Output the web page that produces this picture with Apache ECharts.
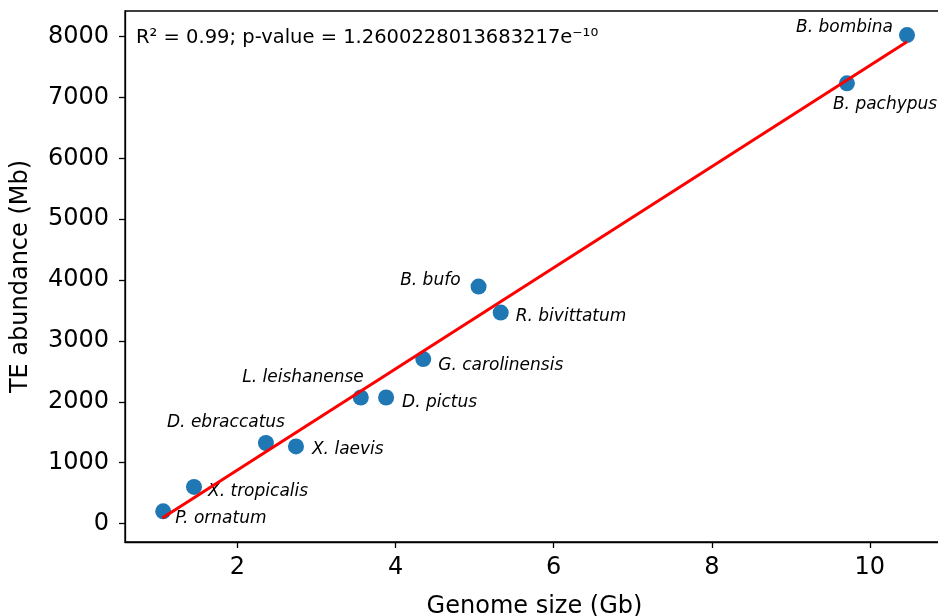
<!DOCTYPE html>
<html><head><meta charset="utf-8">
<script src="https://cdn.jsdelivr.net/npm/echarts@6/dist/echarts.min.js"></script>
<style>html,body{margin:0;padding:0;background:#fff}#c{width:938px;height:616px}</style>
</head><body><div id="c"></div>
<script>
// ---- data ----
const species = ['P. ornatum','X. tropicalis','D. ebraccatus','X. laevis','L. leishanense','D. pictus','G. carolinensis','B. bufo','R. bivittatum','B. pachypus','B. bombina'];
const genomeSizeGb = [1.06, 1.45, 2.36, 2.74, 3.56, 3.88, 4.35, 5.05, 5.33, 9.71, 10.47];
const teAbundanceMb = [202, 602, 1324, 1268, 2072, 2072, 2703, 3894, 3467, 7232, 8024];
const fitGenomeGb = [1.05, 10.47];
const fitTeMb = [94, 7914];
const xTicks = [2, 4, 6, 8, 10];
const yTicks = [0, 1000, 2000, 3000, 4000, 5000, 6000, 7000, 8000];
const statsText = 'R\u00B2 = 0.99; p-value = 1.2600228013683217e\u207B\u00B9\u2070';
const xName = 'Genome size (Gb)';
const yName = 'TE abundance (Mb)';

// ---- label placement (style only) ----
const labelPlacement = {
  'P. ornatum': ['left', 12, 7],
  'X. tropicalis': ['left', 14, 4.5],
  'D. ebraccatus': ['right', 19, -20],
  'X. laevis': ['left', 16, 3],
  'L. leishanense': ['right', 3, -20],
  'D. pictus': ['left', 16, 5],
  'G. carolinensis': ['left', 15, 7],
  'B. bufo': ['right', -18, -6],
  'R. bivittatum': ['left', 15, 4],
  'B. pachypus': ['left', -14, 21],
  'B. bombina': ['right', -14, -8]
};

const FONT = '"DejaVu Sans", sans-serif';
const pts = species.map((s, i) => {
  const p = labelPlacement[s];
  return {
    name: s,
    value: [genomeSizeGb[i], teAbundanceMb[i]],
    label: { show: true, position: 'inside', formatter: s, align: p[0], verticalAlign: 'middle', offset: [p[1], p[2]] }
  };
});
const fitLine = fitGenomeGb.map((x, i) => [x, fitTeMb[i]]);

const chart = echarts.init(document.getElementById('c'), null, { renderer: 'canvas' });
chart.setOption({
  animation: false,
  backgroundColor: '#fff',
  grid: { left: 125, top: 11, width: 819, height: 531, outerBoundsMode: 'none', containLabel: false,
          show: true, borderColor: '#000', borderWidth: 1.3, backgroundColor: 'transparent' },
  xAxis: {
    type: 'value', min: 0.577, max: 10.938,
    name: xName, nameLocation: 'middle', nameGap: 53,
    nameTextStyle: { fontFamily: FONT, fontSize: 24, color: '#000' },
    axisLine: { show: true, onZero: false, lineStyle: { color: '#000', width: 1.3 } },
    axisTick: { show: true, length: 6, inside: false, customValues: xTicks, lineStyle: { color: '#000', width: 1.3 } },
    axisLabel: { customValues: xTicks, margin: 14, fontFamily: FONT, fontSize: 24, color: '#000', formatter: v => String(v) },
    splitLine: { show: false }
  },
  yAxis: {
    type: 'value', min: -302, max: 8420,
    name: yName, nameLocation: 'middle', nameGap: 92,
    nameTextStyle: { fontFamily: FONT, fontSize: 24, color: '#000' },
    axisLine: { show: true, onZero: false, lineStyle: { color: '#000', width: 1.3 } },
    axisTick: { show: true, length: 6, inside: false, customValues: yTicks, lineStyle: { color: '#000', width: 1.3 } },
    axisLabel: { customValues: yTicks, margin: 16, fontFamily: FONT, fontSize: 24, color: '#000', formatter: v => String(v) },
    splitLine: { show: false }
  },
  series: [
    {
      type: 'scatter', data: pts, symbolSize: 16, z: 2,
      itemStyle: { color: '#1f77b4', opacity: 1 },
      label: { fontFamily: FONT, fontStyle: 'italic', fontSize: 17, color: '#000' },
      emphasis: { disabled: true }
    },
    {
      type: 'line', data: fitLine, showSymbol: false, symbol: 'none', z: 3,
      lineStyle: { color: '#ff0000', width: 3 }
    }
  ],
  graphic: [
    { type: 'text', x: 136, y: 38, z: 10, style: { text: statsText, fontFamily: FONT, fontSize: 19.5, fill: '#000', verticalAlign: 'middle', align: 'left' } }
  ]
});
</script></body></html>
